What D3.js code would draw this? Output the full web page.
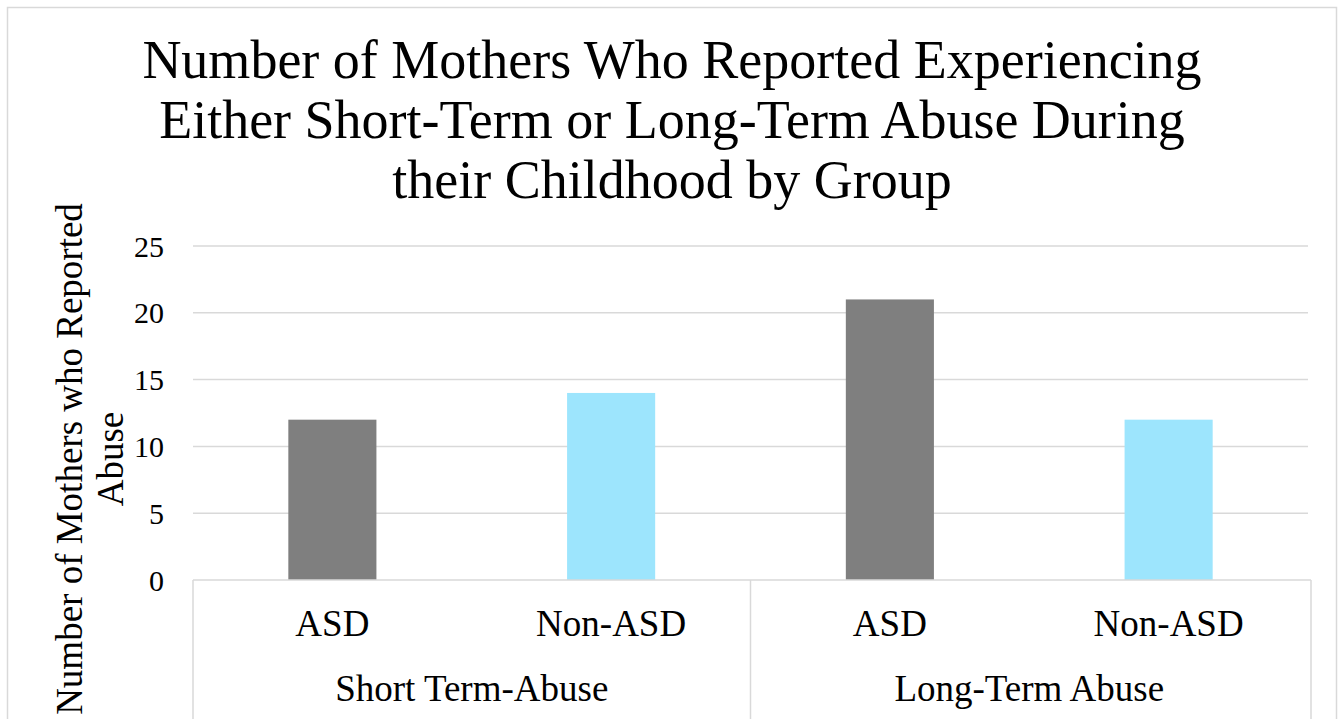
<!DOCTYPE html>
<html>
<head>
<meta charset="utf-8">
<script src="https://cdn.jsdelivr.net/npm/d3@7"></script>
<style>
  body { margin: 0; background: #fff; }
  svg text { font-family: "Liberation Serif", "Times New Roman", serif; fill: #000; }
</style>
</head>
<body>
<svg id="chart" width="1344" height="719"></svg>
<script>
// data
var groups = ["Short Term-Abuse", "Long-Term Abuse"];
var series = ["ASD", "Non-ASD"];
var values = [12, 14, 21, 12];   // ASD/Non-ASD, short then long
var yTicks = [0, 5, 10, 15, 20, 25];
var colors = ["#7f7f7f", "#9de5fd"];
var titleLines = ["Number of Mothers Who Reported Experiencing",
                  "Either Short-Term or Long-Term Abuse During",
                  "their Childhood by Group"];
var yTitle = ["Number of Mothers who Reported", "Abuse"];

var svg = d3.select("#chart");
var W = 1344, H = 719;
var plotL = 193, plotR = 1308, plotT = 246, plotB = 580;

// outer frame
svg.append("rect")
    .attr("x", 7.5).attr("y", 7.5)
    .attr("width", 1329).attr("height", 730)
    .attr("fill", "#fff").attr("stroke", "#d9d9d9").attr("stroke-width", 1.5);

var cats = [];
groups.forEach(function (g, gi) {
    series.forEach(function (s, si) {
        cats.push({ group: g, label: s, si: si, value: values[gi * 2 + si] });
    });
});

var x = d3.scaleBand()
    .domain(d3.range(cats.length))
    .range([plotL, plotR])
    .paddingInner(0.684).paddingOuter(0.342);
var xg = d3.scaleBand().domain(groups).range([plotL, plotR]);
var y = d3.scaleLinear().domain([0, 25]).range([plotB, plotT]);

// gridlines
svg.append("g").selectAll("line").data(yTicks.slice(1)).join("line")
    .attr("x1", plotL).attr("x2", plotR)
    .attr("y1", function (d) { return y(d); }).attr("y2", function (d) { return y(d); })
    .attr("stroke", "#d9d9d9").attr("stroke-width", 1.5);

// bars
svg.append("g").selectAll("rect").data(cats).join("rect")
    .attr("x", function (d, i) { return x(i); })
    .attr("width", x.bandwidth())
    .attr("y", function (d) { return y(d.value); })
    .attr("height", function (d) { return y(0) - y(d.value); })
    .attr("fill", function (d) { return colors[d.si]; });

// axis line + group separators
svg.append("line")
    .attr("x1", plotL).attr("x2", plotR + 3)
    .attr("y1", plotB).attr("y2", plotB)
    .attr("stroke", "#d9d9d9").attr("stroke-width", 1.5);
var seps = groups.map(function (g) { return xg(g); }).concat([plotR + 3]);
svg.append("g").selectAll("line").data(seps).join("line")
    .attr("x1", function (d) { return d; }).attr("x2", function (d) { return d; })
    .attr("y1", plotB).attr("y2", H)
    .attr("stroke", "#d9d9d9").attr("stroke-width", 1.5);

// y tick labels
svg.append("g").selectAll("text").data(yTicks).join("text")
    .attr("x", 164)
    .attr("y", function (d) { return y(d); })
    .attr("dy", "0.35em")
    .attr("text-anchor", "end")
    .style("font-size", "30px")
    .text(function (d) { return d; });

// category labels
svg.append("g").selectAll("text").data(cats).join("text")
    .attr("x", function (d, i) { return x(i) + x.bandwidth() / 2; })
    .attr("y", 636)
    .attr("text-anchor", "middle")
    .style("font-size", "37px")
    .text(function (d) { return d.label; });

// group labels
svg.append("g").selectAll("text").data(groups).join("text")
    .attr("x", function (d) { return xg(d) + xg.bandwidth() / 2; })
    .attr("y", 701)
    .attr("text-anchor", "middle")
    .style("font-size", "37px")
    .text(function (d) { return d; });

// title
svg.append("g").selectAll("text").data(titleLines).join("text")
    .attr("x", 672)
    .attr("y", function (d, i) { return 78 + i * 60; })
    .attr("text-anchor", "middle")
    .style("font-size", "54px")
    .text(function (d) { return d; });

// y axis title
svg.append("g").selectAll("text").data(yTitle).join("text")
    .attr("transform", function (d, i) { return "translate(" + (82 + i * 41) + ",459) rotate(-90)"; })
    .attr("text-anchor", "middle")
    .style("font-size", "37px")
    .text(function (d) { return d; });
</script>
</body>
</html>
